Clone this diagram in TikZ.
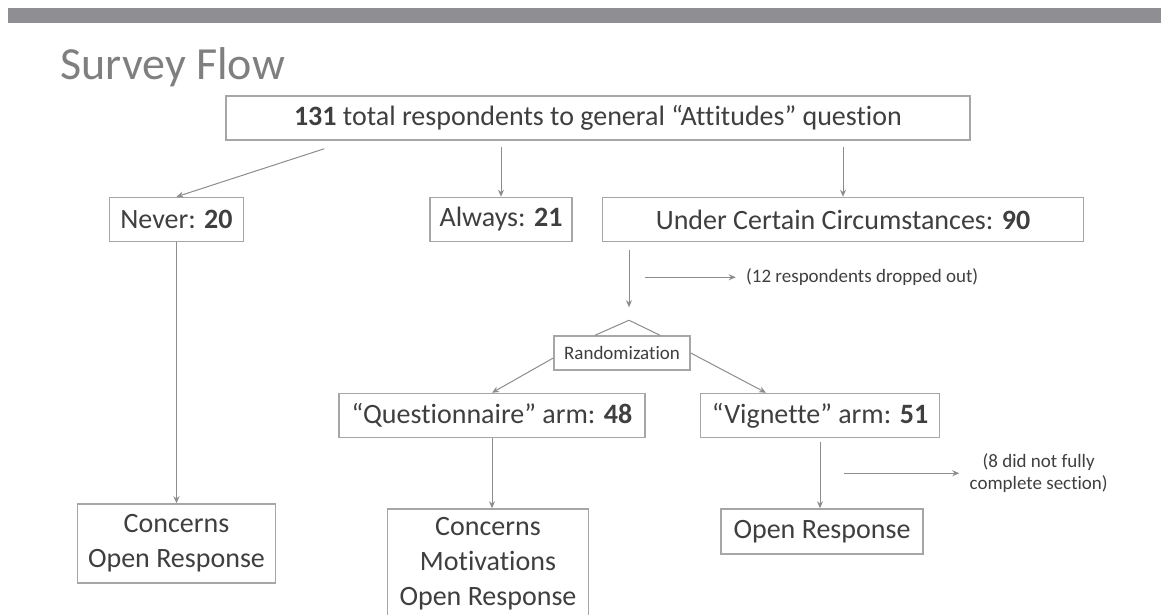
\documentclass[tikz,border=0pt]{standalone}
\usepackage{fontspec}
\setmainfont{Carlito}[Ligatures=NoCommon]
\definecolor{SlideBar}{HTML}{8E8E93}
\definecolor{SlideTitle}{HTML}{7F7F7F}
\definecolor{SlideText}{HTML}{3F3F3F}
\definecolor{SlideLine}{HTML}{A6A6A6}
\definecolor{SlideArrow}{HTML}{8C8C8C}
\usepackage{tikz}
\usetikzlibrary{arrows.meta, positioning, calc}
\tikzset{
    % Default text
    every node/.style={font=\fontsize{14}{17.5}\selectfont, text=SlideText},
    % Flow box style
    flowbox/.style={
        rectangle,
        draw=SlideLine,
        fill=white,
        line width=0.75pt,
        minimum height=22pt,
        inner sep=2pt,
        align=center
    },
    % Small box style
    smallbox/.style={
        rectangle,
        draw=SlideLine,
        fill=white,
        line width=0.75pt,
        minimum width=68pt,
        minimum height=17pt,
        inner sep=2pt,
        align=center,
        font=\fontsize{9.5}{11}\selectfont
    },
    % Side note style
    sidenote/.style={
        inner sep=1pt,
        align=center,
        font=\fontsize{9.5}{11}\selectfont
    },
    % Arrow style
    arrow/.style={
        -{Stealth[length=3.5pt, width=3pt]},
        line width=0.5pt,
        color=SlideArrow
    },
    % Plain line
    link/.style={
        line width=0.5pt,
        color=SlideArrow
    }
}
\begin{document}
\begin{tikzpicture}
    \useasboundingbox (0,0) rectangle (580.5pt,-307.5pt);
    % Slide header
    \fill [SlideBar] (4pt,-4pt) rectangle (580.5pt,-11.5pt);
    \node (title) [anchor=base west, inner sep=0pt, text=SlideTitle, font=\fontsize{23}{27}\selectfont] at (30pt,-40pt) {Survey Flow};

    % Flow chart
    \node (total) [flowbox, minimum width=372pt] at (299pt,-59pt) {\textbf{131} total respondents to general “Attitudes” question};
    \node (always) [flowbox, minimum width=71pt, below=28pt of total, xshift=-48.5pt] {Always: \textbf{21}};
    \node (never) [flowbox, minimum width=67pt, left=92.5pt of always] {Never: \textbf{20}};
    \node (ucc) [flowbox, minimum width=240.5pt, right=14.5pt of always] {Under Certain Circumstances: \textbf{90}};
    \node (concerns) [flowbox, minimum width=99pt, minimum height=39.5pt, below=130.5pt of never] {Concerns\\Open Response};
    \node (rand) [smallbox, below=46.5pt of ucc, xshift=-110.5pt] {Randomization};
    \node (quest) [flowbox, minimum width=153pt, below=11pt of rand, xshift=-65pt] {“Questionnaire” arm: \textbf{48}};
    \node (vign) [flowbox, minimum width=119.5pt, right=27pt of quest] {“Vignette” arm: \textbf{51}};
    \node (cm) [flowbox, minimum width=100.5pt, minimum height=54.5pt, below=35pt of quest, xshift=-2pt] {Concerns\\Motivations\\Open Response};
    \node (openr) [flowbox, minimum width=101pt, minimum height=22.5pt, below=35pt of vign, xshift=1pt] {Open Response};
    \coordinate (split) at ($(rand.north)+(3.5pt,7.5pt)$);
    \node (drop1) [sidenote, anchor=west] at ($(ucc.south west)+(71pt,-17.5pt)$) {(12 respondents dropped out)};
    \node (drop2) [sidenote, anchor=west] at ($(vign.south east)+(13.5pt,-17.5pt)$) {(8 did not fully\\complete section)};

    \draw [arrow] ($(total.south west)+(49.5pt,-4pt)$) -- (never.north);
    \draw [arrow, shorten <=3pt] (always.north |- total.south) -- (always.north);
    \draw [arrow, shorten <=3pt] (ucc.north |- total.south) -- (ucc.north);
    \draw [arrow] (never) -- (concerns);
    \draw [arrow, shorten <=4pt, shorten >=6.5pt] (split |- ucc.south) -- (split);
    \draw [arrow, shorten >=4pt] ($(split |- drop1.west)+(8pt,0)$) -- (drop1.west);
    \draw [link] (split) -- ($(rand.north)+(-13.5pt,0)$);
    \draw [link] (split) -- ($(rand.north)+(19pt,0)$);
    \draw [arrow] ([yshift=-2.5pt]rand.west) -- (quest.north);
    \draw [arrow] (rand.east) -- ([xshift=-27pt]vign.north);
    \draw [arrow] (quest.south) -- (quest.south |- cm.north);
    \draw [arrow, shorten <=2pt] (vign.south) -- (vign.south |- openr.north);
    \draw [arrow, shorten >=4pt] ($(vign.south)+(12pt,-17.5pt)$) -- (drop2.west);
\end{tikzpicture}
\end{document}
